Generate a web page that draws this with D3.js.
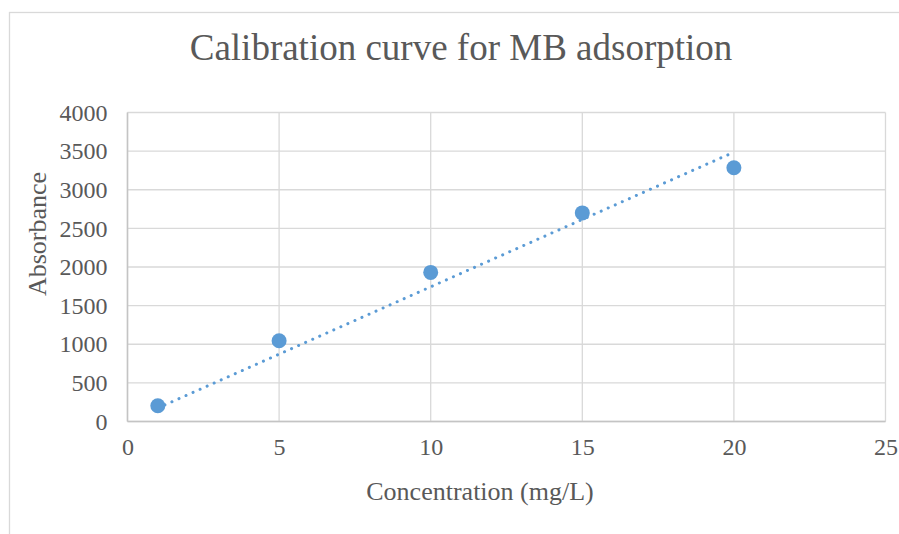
<!DOCTYPE html>
<html><head><meta charset="utf-8">
<script src="https://cdn.jsdelivr.net/npm/d3@7"></script>
<style>body{margin:0;background:#fff}svg{display:block}text{font-family:"Liberation Serif","Times New Roman",serif;fill:#595959}</style>
</head><body><svg id="c" width="899" height="534"></svg>
<script>
const concentration = [1, 5, 10, 15, 20];
const absorbance = [203, 1046, 1930, 2700, 3285];
const xTicks = [0, 5, 10, 15, 20, 25];
const yTicks = [0, 500, 1000, 1500, 2000, 2500, 3000, 3500, 4000];
const title = "Calibration curve for MB adsorption";
const xLabel = "Concentration (mg/L)";
const yLabel = "Absorbance";

const svg = d3.select("#c");
svg.append("rect").attr("x", 9.5).attr("y", 12.5).attr("width", 900).attr("height", 540)
  .attr("fill", "#fff").attr("stroke", "#d9d9d9").attr("stroke-width", 1.3);

const L = 127.5, R = 885.5, T = 112.5, B = 421.5;
const x = d3.scaleLinear().domain([0, 25]).range([L, R]);
const y = d3.scaleLinear().domain([0, 4000]).range([B, T]);

// gridlines
svg.append("g").selectAll("line").data(yTicks).join("line")
  .attr("x1", L).attr("x2", R).attr("y1", d => y(d)).attr("y2", d => y(d))
  .attr("stroke", "#d9d9d9").attr("stroke-width", 1.3);
svg.append("g").selectAll("line").data(xTicks).join("line")
  .attr("y1", T).attr("y2", B).attr("x1", d => x(d)).attr("x2", d => x(d))
  .attr("stroke", "#d9d9d9").attr("stroke-width", 1.3);
// axis lines
svg.append("line").attr("x1", L).attr("x2", R).attr("y1", B).attr("y2", B).attr("stroke", "#c4c4c4").attr("stroke-width", 1.5);
svg.append("line").attr("x1", L).attr("x2", L).attr("y1", T).attr("y2", B).attr("stroke", "#c4c4c4").attr("stroke-width", 1.5);

// axes via d3 (labels only)
const xAxis = svg.append("g").attr("transform", `translate(0,${B})`)
  .call(d3.axisBottom(x).tickValues(xTicks).tickFormat(d3.format("d")).tickSize(0).tickPadding(16));
const yAxis = svg.append("g").attr("transform", `translate(${L},0)`)
  .call(d3.axisLeft(y).tickValues(yTicks).tickFormat(d3.format("d")).tickSize(0).tickPadding(20));
[xAxis, yAxis].forEach(a => {
  a.select(".domain").remove();
  a.selectAll("text").attr("font-family", "Liberation Serif").attr("font-size", 24).attr("fill", "#595959");
});
xAxis.selectAll("text").attr("dy", "0.71em");

// trendline: linear through origin
const sxy = d3.sum(concentration, (c, i) => c * absorbance[i]);
const sxx = d3.sum(concentration, c => c * c);
const slope = sxy / sxx;
const ext = d3.extent(concentration);
svg.append("line")
  .attr("x1", x(ext[0])).attr("y1", y(slope * ext[0]))
  .attr("x2", x(ext[1])).attr("y2", y(slope * ext[1]))
  .attr("stroke", "#5b9bd5").attr("stroke-width", 3)
  .attr("stroke-linecap", "round").attr("stroke-dasharray", "0.1 7.6");

// points
svg.append("g").selectAll("circle").data(concentration).join("circle")
  .attr("cx", d => x(d)).attr("cy", (d, i) => y(absorbance[i])).attr("r", 7.5)
  .attr("fill", "#5b9bd5");

svg.append("text").attr("x", 461).attr("y", 60).attr("text-anchor", "middle")
  .attr("font-size", 37).text(title);
svg.append("text").attr("x", 480).attr("y", 500).attr("text-anchor", "middle")
  .attr("font-size", 26).text(xLabel);
svg.append("text").attr("transform", "translate(46,234) rotate(-90)").attr("text-anchor", "middle")
  .attr("font-size", 26).text(yLabel);
</script></body></html>
